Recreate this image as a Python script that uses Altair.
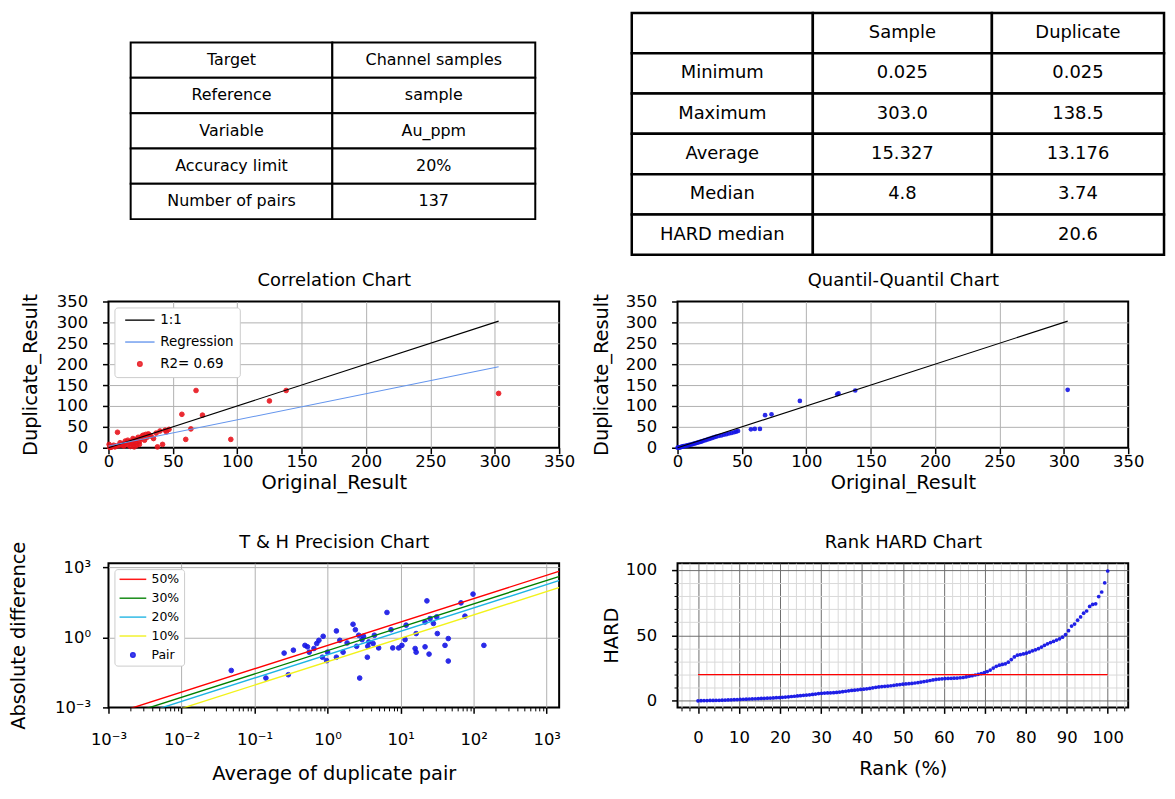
import json
import altair as alt
import pandas as pd

FONT = "DejaVu Sans"

# ---------------- data ----------------
info_labels = ["Target", "Reference", "Variable", "Accuracy limit", "Number of pairs"]
info_values = ["Channel samples", "sample", "Au_ppm", "20%", "137"]

stat_header = ["", "Sample", "Duplicate"]
stat_names = ["Minimum", "Maximum", "Average", "Median", "HARD median"]
stat_sample = ["0.025", "303.0", "15.327", "4.8", ""]
stat_duplicate = ["0.025", "138.5", "13.176", "3.74", "20.6"]

corr_original = [0.5, 1, 2, 3, 4, 5, 6, 7, 8, 9, 10, 11, 12, 12, 13, 14, 15, 15, 16, 17,
                 18, 18, 19, 19, 20, 20, 21, 22, 22, 23, 24, 24, 25, 26, 27, 28, 29, 30, 31, 32,
                 33, 35, 37, 38, 40, 42, 44, 45, 47, 57, 60, 64, 68, 73, 95, 125, 138, 303]
corr_duplicate = [8, 0.5, 1, 3, 6, 2, 4, 37, 5, 12, 8, 6, 10, 4, 16, 12, 7, 18, 14, 3,
                  15, 10, 9, 22, 18, 2, 12, 20, 6, 25, 15, 8, 22, 28, 30, 18, 32, 25, 33, 30,
                  28, 22, 35, 2, 40, 8, 42, 38, 44, 80, 20, 45, 137, 78, 20, 112, 137, 130]
line_x = [0.025, 303.0]
one_to_one_y = [0.025, 303.0]
regression_y = [4.0, 194.0]
corr_series = ["1:1", "Regression", "R2= 0.69"]

qq_original = [0.025, 0.5, 1, 1.5, 2, 2.5, 3, 3.5, 4, 4.8, 5.5, 6.5, 7.5, 8.5, 9.5, 10.5, 11.5,
               12.5, 13.5, 14.5, 15.5, 16.5, 17.5, 18.5, 19.5, 21, 22.5, 24, 25.5, 27, 28.5, 30,
               32, 34, 36, 38, 40, 42, 44, 45.5, 47, 57, 60, 64, 68, 73, 95, 124, 125, 138, 303]
qq_duplicate = [0.025, 0.3, 0.6, 0.9, 1.2, 1.5, 1.9, 2.3, 2.8, 3.7, 4.2, 4.8, 5.5, 6.2, 7, 7.8,
                8.6, 9.5, 10.4, 11.3, 12.2, 13.1, 14, 15, 16, 17.5, 19, 20.5, 22, 23.5, 25, 26.5,
                28, 29.5, 31, 32.5, 34, 35.5, 37, 38.5, 40, 44, 45, 45, 78, 80, 112, 128, 130,
                137, 138.5]

th_average = [0.048, 0.143, 0.254, 0.34, 0.29, 0.49, 0.53, 0.56, 0.65, 0.71, 0.76, 0.87, 0.85,
              0.97, 1.0, 1.32, 1.32, 1.47, 1.63, 1.85, 2.23, 2.4, 2.5, 2.67, 2.75, 2.96, 3.1,
              3.5, 3.55, 3.66, 4.2, 4.37, 5.0, 6.5, 7.4, 7.8, 9.4, 10.4, 11.5, 11.9, 16.3, 15.8,
              16.3, 21.6, 21.6, 22.9, 24.5, 25.3, 28.1, 31.2, 31.8, 40.5, 44.9, 44.9, 67.0, 76.0,
              98.0, 138.0]
th_absdiff = [0.038, 0.018, 0.21, 0.28, 0.025, 0.45, 0.39, 0.23, 0.33, 0.54, 0.74, 1.1, 0.14,
              0.10, 0.23, 1.86, 0.14, 0.74, 0.23, 0.57, 3.6, 2.1, 0.41, 1.22, 0.018, 0.79, 1.1,
              0.14, 0.41, 0.63, 0.54, 1.22, 0.35, 11.5, 2.1, 0.35, 0.35, 0.45, 0.79, 3.3, 1.44,
              0.33, 0.23, 4.5, 0.39, 36.0, 0.19, 6.3, 3.9, 7.4, 1.44, 0.45, 0.88, 0.096, 29.6,
              8.0, 70.0, 0.45]
th_line_x = [0.001, 1500.0]
th_series = ["50%", "30%", "20%", "10%", "Pair"]
th_line_y = {
    "50%": [0.00045, 675.0],
    "30%": [0.00027, 405.0],
    "20%": [0.00018, 270.0],
    "10%": [0.00009, 135.0],
}

hard_values = [0.0, 0.1, 0.2, 0.2, 0.3, 0.3, 0.4, 0.4, 0.5, 0.6, 0.7, 0.8, 0.9, 1.0,
               1.1, 1.2, 1.3, 1.4, 1.5, 1.6, 1.7, 1.8, 1.9, 2.0, 2.1, 2.2, 2.4, 2.5,
               2.7, 2.9, 3.1, 3.3, 3.5, 3.7, 3.9, 4.2, 4.4, 4.6, 4.9, 5.2, 5.5,
               5.7, 5.9, 6.0, 6.1, 6.2, 6.4, 6.7, 7.0, 7.3, 7.6, 7.9, 8.1, 8.4, 8.7,
               8.9, 9.2, 9.5, 9.9, 10.3, 10.6, 10.9, 11.1, 11.3, 11.5, 11.8, 12.1, 12.4, 12.7,
               12.9, 13.1, 13.3, 13.6, 13.9, 14.3, 14.7, 15.1, 15.5, 15.9, 16.3, 16.6, 16.8,
               17.0, 17.1, 17.2, 17.3, 17.4, 17.6, 17.8, 18.2, 18.8,
               19.2, 19.7, 20.2, 20.8, 21.5,
               22.3, 23.5, 25.0, 26.3, 27.2, 27.8, 28.2,
               29.5, 31.5, 33.5, 34.8, 35.3, 35.8, 36.3,
               37.2, 38.1, 38.9, 39.8, 41.0, 42.3, 43.5,
               44.4, 45.3, 46.3, 47.3, 48.5,
               50.5, 53.5, 57.0, 58.5,
               61.5, 64.0, 66.8, 68.5, 72.0,
               73.5, 74.0, 79.5, 83.0, 90.0, 99.0]
hard_limit_x = [0.0, 100.0]
hard_limit_y = [20.0, 20.0]

lin_ticks = [0, 50, 100, 150, 200, 250, 300, 350]
log_tick_labels = ["10⁻³", "10⁻²", "10⁻¹", "10⁰", "10¹", "10²", "10³"]
rank_x_ticks = list(range(-4, 106, 2))
rank_y_ticks = list(range(0, 101, 10))
th_x_ticks = [round(m * 10.0 ** e, 6) for e in range(-3, 3) for m in range(1, 10)] + [1000.0]
th_y_ticks = [0.001, 1.0, 1000.0]

# ---------------- layout constants ----------------
PW = 453          # plot width of every panel
H1 = 174          # row 1 (tables)
H2 = 147          # row 2 plots
H3 = 145          # row 3 plots
LABEL_SIZE = 16.5
AXIS_TITLE_SIZE = 19.5
TITLE_SIZE = 18


def title_axis(text):
    """Top axis that carries only the panel title (placed 21px above the frame)."""
    return alt.Axis(orient="top", title=text, labels=False, ticks=False, grid=False, domain=False,
                    titleX=PW / 2, titleY=-21, titleAlign="center", titleBaseline="middle",
                    titleAngle=0, titleFontSize=TITLE_SIZE)


def x_axis(title, values, title_y, grid_test="false", label_pad=0, **kw):
    return alt.Axis(title=title, values=values, titleX=PW / 2, titleY=title_y, titleAlign="center",
                    titleBaseline="middle", titleAngle=0, labelPadding=label_pad,
                    gridOpacity={"condition": {"test": grid_test, "value": 0}, "value": 1}, **kw)


def y_axis(title, values, title_x, height, grid_test="false", **kw):
    return alt.Axis(title=title, values=values, titleX=title_x, titleY=height / 2, titleAlign="center",
                    titleBaseline="middle", titleAngle=270, labelPadding=15,
                    gridOpacity={"condition": {"test": grid_test, "value": 0}, "value": 1}, **kw)


FRAME = alt.ViewBackground(stroke="black", strokeWidth=2, fill="white")


def legend(label_size, padding, symbol_offset, label_offset, row_padding):
    return alt.Legend(orient="top-left", title=None, offset=6, padding=padding, fillColor="white",
                      strokeColor="#cccccc", cornerRadius=3, labelFont=FONT, labelFontSize=label_size,
                      labelColor="black", symbolOffset=symbol_offset, labelOffset=label_offset,
                      symbolSize=20, symbolStrokeWidth=1.5, rowPadding=row_padding)


# ---------------- tables ----------------
def table_chart(cells, n_cols, n_rows, x_edges, y_edges, font_size, stroke_w):
    df = pd.DataFrame(cells, columns=["c", "r", "txt"])
    df["c2"] = df["c"] + 1
    df["r2"] = df["r"] + 1
    df["cm"] = df["c"] + 0.5
    df["rm"] = df["r"] + 0.5
    xs = alt.Scale(domain=list(range(n_cols + 1)), range=x_edges, nice=False, zero=False)
    ys = alt.Scale(domain=list(range(n_rows + 1)), range=y_edges, nice=False, zero=False)
    base = alt.Chart(df)
    rects = base.mark_rect(fill="white", stroke="black", strokeWidth=stroke_w).encode(
        x=alt.X("c:Q", scale=xs, axis=None), x2="c2:Q",
        y=alt.Y("r:Q", scale=ys, axis=None), y2="r2:Q")
    texts = base.mark_text(font=FONT, fontSize=font_size, color="black", align="center",
                           baseline="middle").encode(
        x=alt.X("cm:Q", scale=xs, axis=None), y=alt.Y("rm:Q", scale=ys, axis=None), text="txt:N")
    return alt.layer(rects, texts).properties(
        width=PW, height=H1, view=alt.ViewBackground(stroke="transparent", fill="transparent"))


t1_cells = []
for i, (lab, val) in enumerate(zip(info_labels, info_values)):
    t1_cells.append((0, i, lab))
    t1_cells.append((1, i, val))
table1 = table_chart(t1_cells, 2, 5, [22.3, 225.0, 429.0],
                     [29.7, 65.2, 100.7, 136.2, 171.7, 207.2], 16, 2)

t2_cells = [(c, 0, h) for c, h in enumerate(stat_header)]
for i, (n, s, d) in enumerate(zip(stat_names, stat_sample, stat_duplicate)):
    t2_cells += [(0, i + 1, n), (1, i + 1, s), (2, i + 1, d)]
table2 = table_chart(t2_cells, 3, 6, [-46.0, 136.0, 316.0, 489.0],
                     [0.0, 40.5, 81.0, 121.5, 162.0, 202.5, 243.0], 18, 2.5)

# ---------------- correlation chart ----------------
sc350 = alt.Scale(domain=[0, 350], nice=False, zero=False)
edge350 = "datum.value <= 0 || datum.value >= 350"
corr_colors = ["black", "#6495ed", "#e8141c"]
LINE_SHAPE_C = "M-6.6,0H6.6"
corr_pts = pd.DataFrame({"x": corr_original, "y": corr_duplicate, "s": corr_series[2]})
corr_lines = pd.DataFrame({"x": line_x + line_x, "y": one_to_one_y + regression_y,
                           "s": [corr_series[0]] * 2 + [corr_series[1]] * 2})
cleg = legend(13.5, 6, 12.8, 13.7, 7)
c_fill = alt.Scale(domain=corr_series, range=corr_colors)
c_shape = alt.Scale(domain=corr_series, range=[LINE_SHAPE_C, LINE_SHAPE_C, "circle"])

xa_c = x_axis("Original_Result", lin_ticks, 35, edge350)
ya_c = y_axis("Duplicate_Result", lin_ticks, -78, H2, edge350)
corr_p = alt.Chart(corr_pts).mark_point(filled=True, size=22, opacity=0.9, strokeWidth=1).encode(
    x=alt.X("x:Q", scale=sc350, axis=xa_c), y=alt.Y("y:Q", scale=sc350, axis=ya_c),
    fill=alt.Fill("s:N", scale=c_fill, legend=cleg),
    stroke=alt.Stroke("s:N", scale=c_fill, legend=cleg),
    shape=alt.Shape("s:N", scale=c_shape, legend=cleg))
corr_l = alt.Chart(corr_lines).mark_line(strokeWidth=1.1).encode(
    x=alt.X("x:Q", scale=sc350, axis=title_axis("Correlation Chart")),
    y=alt.Y("y:Q", scale=sc350, axis=ya_c),
    stroke=alt.Stroke("s:N", scale=c_fill, legend=cleg))
corr = alt.layer(corr_p, corr_l).resolve_axis(x="independent").properties(
    width=PW, height=H2, view=FRAME)

# ---------------- Q-Q chart ----------------
qq_pts = pd.DataFrame({"x": qq_original, "y": qq_duplicate})
qq_line = pd.DataFrame({"x": line_x, "y": one_to_one_y})
xa_q = x_axis("Original_Result", lin_ticks, 35, edge350)
ya_q = y_axis("Duplicate_Result", lin_ticks, -76, H2, edge350)
qq_p = alt.Chart(qq_pts).mark_circle(size=22, color="#1414e6", opacity=0.9).encode(
    x=alt.X("x:Q", scale=sc350, axis=xa_q), y=alt.Y("y:Q", scale=sc350, axis=ya_q))
qq_l = alt.Chart(qq_line).mark_line(color="black", strokeWidth=1.1).encode(
    x=alt.X("x:Q", scale=sc350, axis=title_axis("Quantil-Quantil Chart")),
    y=alt.Y("y:Q", scale=sc350, axis=ya_q))
qq = alt.layer(qq_p, qq_l).resolve_axis(x="independent").properties(
    width=PW, height=H2, view=FRAME)

# ---------------- T & H precision chart ----------------
is_decade = "abs(log(datum.value)/LN10 - round(log(datum.value)/LN10)) < 1e-6"
log_label_expr = (f"{is_decade} ? {json.dumps(log_tick_labels, ensure_ascii=False)}"
                  f"[round(log(datum.value)/LN10)+3] : ''")
sc_log = alt.Scale(type="log", domain=[0.001, 1480], nice=False, zero=False)
th_colors = ["#ff0000", "#008000", "#1cb4e3", "#f2f21a", "#1414e6"]
LINE_SHAPE_T = "M-6.0,0H6.0"
th_fill = alt.Scale(domain=th_series, range=th_colors)
th_shape = alt.Scale(domain=th_series, range=[LINE_SHAPE_T] * 4 + ["circle"])
tleg = legend(12.5, 4, 8.3, 12.5, 6)

th_pts = pd.DataFrame({"x": th_average, "y": th_absdiff, "s": th_series[4]})
rows = []
for lvl in th_series[:4]:
    for xv, yv in zip(th_line_x, th_line_y[lvl]):
        rows.append({"x": xv, "y": yv, "s": lvl})
th_lines = pd.DataFrame(rows)

xa_t = alt.Axis(title="Average of duplicate pair", values=th_x_ticks, titleX=PW / 2, titleY=66,
                titleAlign="center", titleBaseline="middle", titleAngle=0, labelPadding=18,
                labelExpr=log_label_expr,
                gridOpacity={"condition": {"test": f"({is_decade}) && datum.value > 0.0011", "value": 1},
                             "value": 0},
                tickSize={"condition": {"test": is_decade, "value": 6}, "value": 3.5},
                tickWidth={"condition": {"test": is_decade, "value": 1.5}, "value": 1})
ya_t = alt.Axis(title="Absolute difference", values=th_y_ticks, titleX=-90, titleY=H3 / 2,
                titleAlign="center", titleBaseline="middle", titleAngle=270, labelPadding=12,
                labelExpr=log_label_expr,
                gridOpacity={"condition": {"test": "datum.value > 0.0011", "value": 1}, "value": 0})
th_p = alt.Chart(th_pts).mark_point(filled=True, size=22, opacity=0.9, strokeWidth=1).encode(
    x=alt.X("x:Q", scale=sc_log, axis=xa_t), y=alt.Y("y:Q", scale=sc_log, axis=ya_t),
    fill=alt.Fill("s:N", scale=th_fill, legend=tleg),
    stroke=alt.Stroke("s:N", scale=th_fill, legend=tleg),
    shape=alt.Shape("s:N", scale=th_shape, legend=tleg))
th_l = alt.Chart(th_lines).mark_line(strokeWidth=1.4, clip=True).encode(
    x=alt.X("x:Q", scale=sc_log, axis=title_axis("T & H Precision Chart")),
    y=alt.Y("y:Q", scale=sc_log, axis=ya_t),
    stroke=alt.Stroke("s:N", scale=th_fill, legend=tleg))
th = alt.layer(th_p, th_l).resolve_axis(x="independent").properties(
    width=PW, height=H3, view=FRAME)

# ---------------- Rank HARD chart ----------------
n_h = len(hard_values)
rank_df = pd.DataFrame({"rank": [i * 100.0 / (n_h - 1) for i in range(n_h)], "hard": hard_values})
limit_df = pd.DataFrame({"rank": hard_limit_x, "hard": hard_limit_y})
sc_rank = alt.Scale(domain=[-5, 105], nice=False, zero=False)
x_major = "datum.value % 10 === 0"
y_major = "datum.value % 50 === 0"
xa_r = alt.Axis(title="Rank (%)", values=rank_x_ticks, titleX=PW / 2, titleY=61, titleAlign="center",
                titleBaseline="middle", titleAngle=0, labelPadding=16,
                labelExpr=f"({x_major}) && datum.value >= 0 && datum.value <= 100 ? datum.label : ''",
                gridColor={"condition": {"test": x_major, "value": "#6e6e6e"}, "value": "#d9d9d9"},
                tickSize={"condition": {"test": x_major, "value": 6}, "value": 3.5},
                tickWidth={"condition": {"test": x_major, "value": 1.5}, "value": 1})
ya_r = alt.Axis(title="HARD", values=rank_y_ticks, titleX=-66, titleY=H3 / 2, titleAlign="center",
                titleBaseline="middle", titleAngle=270, labelPadding=15,
                labelExpr=f"{y_major} ? datum.label : ''",
                gridColor={"condition": {"test": y_major, "value": "#6e6e6e"}, "value": "#d9d9d9"},
                tickSize={"condition": {"test": y_major, "value": 6}, "value": 3.5},
                tickWidth={"condition": {"test": y_major, "value": 1.5}, "value": 1})
rank_p = alt.Chart(rank_df).mark_circle(size=14, color="#1414e6", opacity=0.95).encode(
    x=alt.X("rank:Q", scale=sc_rank, axis=xa_r), y=alt.Y("hard:Q", scale=sc_rank, axis=ya_r))
rank_l = alt.Chart(limit_df).mark_line(color="#ff0000", strokeWidth=1.3).encode(
    x=alt.X("rank:Q", scale=sc_rank, axis=title_axis("Rank HARD Chart")),
    y=alt.Y("hard:Q", scale=sc_rank, axis=ya_r))
rank = alt.layer(rank_p, rank_l).resolve_axis(x="independent").properties(
    width=PW, height=H3, view=FRAME)

# ---------------- assemble ----------------
chart = alt.concat(table1, table2, corr, qq, th, rank, columns=2,
                   spacing={"row": 116, "column": 119}, bounds="flush", align="each")
chart = chart.resolve_scale(fill="independent", stroke="independent", shape="independent",
                            x="independent", y="independent")
chart = chart.resolve_legend(fill="independent", stroke="independent", shape="independent")
chart = chart.properties(padding={"left": 0, "top": 0, "right": 0, "bottom": 0})
chart = chart.configure(font=FONT).configure_axis(
    labelFont=FONT, labelFontSize=LABEL_SIZE, labelColor="black", titleFont=FONT,
    titleFontSize=AXIS_TITLE_SIZE, titleFontWeight="normal", titleColor="black", tickColor="black",
    tickWidth=1.5, tickSize=6, domain=False, grid=True, gridColor="#b0b0b0", gridWidth=1,
    labelFlush=False, labelOverlap=False
).configure_view(stroke="black", strokeWidth=2)

chart.save("out.html", embed_options={"renderer": "svg", "actions": False})
